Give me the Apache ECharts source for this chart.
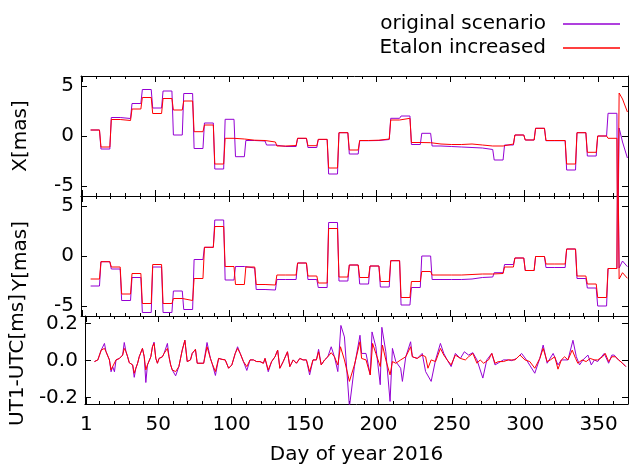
<!DOCTYPE html>
<html><head><meta charset="utf-8">
<script src="https://cdn.jsdelivr.net/npm/echarts@6/dist/echarts.min.js"></script>
<style>html,body{margin:0;padding:0;background:#fff}#c{width:629px;height:469px}</style>
</head><body><div id="c"></div>
<script>
// ---- data ----
const blockDays = [7,14,21,28,35,42,49,56,63,70,77,84,91,98,105,112,119,126,133,140,147,154,161,168,175,182,189,196,203,210,217,224,231,238,245,252,259,266,273,280,287,294,301,308,315,322,329,336,343,350,357];
const xOrig = [0.6,-1.3,1.85,1.75,3.25,4.65,2.8,4.5,0.1,4.25,-1.25,1.3,-3.3,1.67,-2.07,-0.45,-0.5,-0.9,-1.05,-1.05,-0.25,-1.15,-0.35,-3.8,0.33,-1.8,-0.47,-0.45,-0.35,1.77,2.0,-0.85,0.27,-1.0,-1.05,-1.1,-1.15,-1.2,-1.35,-2.4,-0.9,0.1,-0.4,0.77,-0.47,-0.47,-3.4,0.33,-2.0,0.0,2.27];
const xEtal = [0.6,-1.1,1.65,1.55,2.7,3.85,2.25,3.75,2.6,3.5,0.43,1.1,-2.8,-0.23,-0.3,-0.42,-0.45,-0.6,-1.0,-0.95,-0.22,-0.97,-0.33,-3.2,0.33,-1.4,-0.45,-0.42,-0.3,1.6,1.77,-0.65,-0.67,-0.8,-0.85,-0.85,-0.8,-0.9,-1.0,-1.0,-0.8,0.1,-0.4,0.77,-0.45,-0.45,-2.8,0.33,-1.63,0.0,-0.23];
const yOrig = [-3.0,-0.57,-1.3,-4.45,-2.15,-5.65,-1.1,-5.65,-3.5,-5.35,-0.35,0.87,3.6,-2.4,-1.05,-1.2,-3.35,-3.4,-2.35,-2.35,-0.7,-2.35,-3.15,3.35,-2.5,-0.9,-2.8,-1.0,-3.1,-0.47,-4.9,-3.15,0.0,-2.35,-2.35,-2.35,-2.3,-2.15,-2.1,-1.67,-0.85,-0.2,-1.45,-0.05,-1.15,-1.15,0.7,-2.25,-3.2,-5.0,-1.25];
const yEtal = [-2.3,-0.57,-1.1,-3.8,-1.75,-4.75,-0.85,-4.75,-4.25,-4.45,-2.25,0.87,2.95,-1.05,-2.85,-1.1,-2.85,-2.9,-1.9,-1.9,-0.7,-2.0,-2.7,2.75,-2.1,-0.9,-2.15,-1.0,-2.55,-0.47,-4.15,-2.55,-1.55,-1.9,-1.9,-1.9,-1.85,-1.8,-1.8,-1.75,-1.1,-0.2,-1.45,-0.05,-0.8,-0.8,0.7,-2.0,-2.8,-4.15,-1.25];
// end of year (after the outlier day)
const tailDays = [363,364,366.3,369.6];
const xOrigTail = [-12,0.8,-0.6,-2.2];
const xEtalTail = [-12,4.3,3.7,2.4];
const yOrigTail = [12,-1.2,-0.5,-1.07];
const yEtalTail = [12,-2.3,-1.67,-2.23];
// UT1-UTC [ms]
const utEtalDays = [6.5,8.8,11.1,13.3,14.4,16.7,17.8,18.9,20.1,21.2,22.3,23.5,25.7,26.8,28.0,29.1,30.2,32.5,33.6,34.7,35.9,37.0,39.2,40.4,41.5,42.6,44.9,46.0,47.1,48.3,49.4,50.5,52.8,53.9,56.2,57.3,58.4,59.5,61.8,64.0,66.3,68.1,69.7,71.9,73.1,75.3,76.5,77.6,80.9,83.2,85.5,86.6,88.9,91.1,93.4,95.6,97.9,100.1,102.4,104.0,105.8,108.0,110.3,112.5,114.8,117.0,119.3,121.6,122.7,124.9,127.2,129.5,131.3,132.8,135.1,138.0,139.6,141.9,144.1,146.4,148.6,150.9,153.1,155.4,157.7,159.2,161.0,163.3,165.5,167.8,170.0,172.3,174.1,176.8,180.2,183.6,187.4,188.5,191.5,194.4,196.0,198.2,201.2,202.7,205.0,207.9,209.5,211.8,215.1,218.6,221.9,223.1,226.4,229.8,232.1,233.7,235.9,238.9,242.2,244.5,246.8,249.5,252.4,255.8,259.2,261.4,264.3,267.1,269.3,271.6,275.0,277.2,279.4,281.7,285.1,288.5,290.8,293.0,296.4,299.8,303.1,306.5,309.9,312.2,314.9,317.1,320.1,322.3,324.6,326.8,329.1,332.0,334.3,335.8,338.8,341.5,344.2,347.1,349.3,352.7,354.5,356.8,359.0,361.3,363.6,366.3,368.5];
const utEtalVals = [-0.005,0.004,0.057,0.066,0.048,0.004,-0.05,-0.032,-0.041,0.004,-0.005,0.012,0.03,0.066,0.048,0.021,-0.011,-0.023,-0.068,-0.041,-0.014,0.021,0.066,0.021,-0.05,-0.023,0.021,0.075,0.093,0.012,-0.014,0.012,0.021,0.039,0.066,0.021,-0.023,-0.05,-0.059,-0.032,0.057,0.11,-0.005,0.004,0.039,0.061,-0.014,-0.023,-0.014,0.075,0.012,-0.014,-0.059,0.012,0.007,0.004,-0.041,-0.023,0.039,0.066,0.039,-0.005,-0.032,0.004,0.004,-0.005,-0.005,-0.014,0.012,-0.05,-0.005,0.021,0.057,-0.041,-0.005,0.048,-0.032,0.004,-0.014,0.012,0.004,0.004,-0.059,0.004,0.004,0.048,-0.023,0.004,0.021,0.043,0.021,-0.023,0.075,0.004,-0.112,-0.023,0.102,0.012,0.004,-0.077,0.093,0.039,-0.032,0.084,0.004,-0.077,-0.005,-0.014,0.004,0.021,0.075,0.021,0.012,0.03,0.021,-0.041,0.004,-0.005,0.066,0.03,0.004,-0.023,0.03,0.012,0.004,0.021,0.039,-0.014,0.004,-0.014,0.004,0.039,-0.014,-0.005,-0.005,0.004,0.004,0.004,0.03,0.004,-0.005,-0.041,0.012,0.066,-0.005,0.004,0.021,-0.046,0.004,0.021,0.004,0.057,0.012,-0.014,0.004,-0.005,0.012,0.004,0.004,0.021,0.039,-0.005,0.021,0.021,0.004,-0.014,-0.032];
const utOrigDays = [6.5,8.8,11.1,13.3,14.4,16.7,17.8,18.9,20.1,21.2,22.3,23.5,25.7,26.8,28.0,29.1,30.2,32.5,33.6,34.7,35.9,37.0,39.2,40.4,41.5,42.6,44.9,46.0,47.1,48.3,49.4,50.5,52.8,53.9,56.2,57.3,58.4,59.5,61.8,64.0,66.3,68.1,69.7,71.9,73.1,75.3,76.5,77.6,80.9,83.2,85.5,86.6,88.9,91.1,93.4,95.6,97.9,100.1,102.4,104.0,105.8,108.0,110.3,112.5,114.8,117.0,119.3,121.6,122.7,124.9,127.2,129.5,131.3,132.8,135.1,138.0,139.6,141.9,144.1,146.4,148.6,150.9,153.1,155.4,157.7,159.2,161.0,163.3,165.5,167.8,170.0,172.3,174.4,176.8,180.2,183.6,187.4,188.5,191.5,194.4,195.6,198.2,201.2,202.3,205.0,207.9,209.5,211.8,215.1,216.3,218.6,221.9,223.1,226.4,229.8,232.1,235.9,238.9,242.2,244.5,246.8,249.5,252.4,255.8,258.5,261.4,264.3,267.1,271.1,273.8,277.2,279.4,285.1,288.5,290.8,294.1,297.5,300.8,306.5,309.9,312.2,314.9,319.0,322.3,324.6,329.1,332.5,334.8,337.0,339.3,342.7,345.0,347.1,349.3,353.8,356.8,359.0,360.6,363.6,366.3,368.5];
const utOrigVals = [-0.005,0.004,0.057,0.093,0.048,0.004,-0.06,-0.032,-0.06,0.004,-0.005,0.012,0.03,0.098,0.048,0.021,-0.011,-0.023,-0.09,-0.041,-0.014,0.021,0.066,0.021,-0.118,-0.023,0.021,0.075,0.1,0.012,-0.014,0.012,0.021,0.039,0.093,0.021,-0.023,-0.05,-0.082,-0.032,0.057,0.11,-0.005,0.004,0.039,0.061,-0.014,-0.023,-0.014,0.098,0.012,-0.014,-0.08,0.012,0.007,0.004,-0.041,-0.023,0.039,0.075,0.039,-0.005,-0.053,0.004,0.004,-0.005,-0.005,-0.014,0.012,-0.06,-0.005,0.021,0.057,-0.041,-0.005,0.048,-0.032,0.004,-0.014,0.012,0.004,0.004,-0.077,0.004,0.004,0.061,-0.023,0.004,0.021,0.075,0.021,-0.059,0.19,0.128,-0.25,-0.032,0.137,0.039,0.039,-0.077,0.155,0.075,-0.13,0.18,0.048,-0.22,0.066,-0.005,-0.041,-0.112,0.021,0.102,0.021,0.012,0.039,-0.059,-0.112,0.004,0.093,0.039,0.004,-0.032,0.039,0.012,0.048,0.03,0.043,0.004,-0.094,0.004,0.039,-0.023,0.004,0.004,0.0,0.012,0.039,0.004,-0.068,0.012,0.084,-0.014,0.039,-0.023,0.004,0.004,0.11,0.021,-0.023,0.004,0.03,-0.023,0.004,-0.005,0.039,-0.014,0.03,0.03,0.004,-0.014,-0.032];
const majorDays = [1,50,100,150,200,250,300,350];
const xyTicks = [-5,0,5];
const utTicks = [-0.2,0,0.2];

// ---- build ----
function steps(vals, tDays, tVals){
  const pts=[];
  blockDays.forEach((d,i)=>{pts.push([d-0.5,vals[i]]);pts.push([d+5.5,vals[i]]);});
  tDays.forEach((d,i)=>pts.push([d,tVals[i]]));
  return pts;
}
function pairs(ds,vs){return ds.map((d,i)=>[d,vs[i]]);}
const P='#9400d3', R='#ff0000', FONT='DejaVu Sans';
const panels=[{top:76,h:120,min:-6,max:6,ticks:xyTicks,name:'X[mas]',fmt:v=>String(v)},
              {top:196,h:120,min:-6,max:6,ticks:xyTicks,name:'Y[mas]',fmt:v=>String(v)},
              {top:316,h:88,min:-0.234,max:0.241,ticks:utTicks,name:'UT1-UTC[ms]',fmt:v=>v.toFixed(1)}];
const grid=[],xAxis=[],yAxis=[];
panels.forEach((p,g)=>{
  grid.push({left:81,width:547,top:p.top,height:p.h,containLabel:false});
  const last=g===2;
  ['bottom','top'].forEach(pos=>{
    const isTitle=last&&pos==='bottom';
    xAxis.push({type:'value',gridIndex:g,position:pos,min:0,max:370,
      name:isTitle?'Day of year 2016':'',nameLocation:'middle',nameGap:41,
      nameTextStyle:{fontSize:20,color:'#000',fontFamily:FONT},
      axisLine:{show:true,onZero:false,lineStyle:{color:'#000',width:1}},
      axisTick:{show:true,inside:true,length:6,customValues:majorDays,lineStyle:{color:'#000'}},
      axisLabel:{show:isTitle,customValues:majorDays,fontSize:20,color:'#000',fontFamily:FONT,margin:11},
      splitLine:{show:false}});
  });
  ['bottom','top'].forEach(pos=>{
    xAxis.push({type:'value',gridIndex:g,position:pos,min:0,max:370,interval:10,
      axisLine:{show:false,onZero:false},axisLabel:{show:false},splitLine:{show:false},
      axisTick:{show:true,inside:true,length:3,lineStyle:{color:'#000'}}});
  });
  ['left','right'].forEach(pos=>{
    yAxis.push({type:'value',gridIndex:g,position:pos,min:p.min,max:p.max,
      name:pos==='left'?p.name:'',nameLocation:'middle',nameRotate:90,nameGap:50,
      nameTextStyle:{fontSize:20,color:'#000',fontFamily:FONT},
      axisLine:{show:true,onZero:false,lineStyle:{color:'#000',width:1}},
      axisTick:{show:true,inside:true,length:6,customValues:p.ticks,lineStyle:{color:'#000'}},
      axisLabel:{show:pos==='left',customValues:p.ticks,formatter:p.fmt,fontSize:20,color:'#000',fontFamily:FONT,margin:7},
      splitLine:{show:false}});
  });
});
function ser(name,color,g,data){
  return {type:'line',name,xAxisIndex:4*g,yAxisIndex:2*g,data,showSymbol:false,symbol:'none',
    lineStyle:{color,width:1},itemStyle:{color},clip:true,animation:false};
}
const series=[
  ser('original scenario',P,0,steps(xOrig,tailDays,xOrigTail)),
  ser('Etalon increased',R,0,steps(xEtal,tailDays,xEtalTail)),
  ser('original scenario',P,1,steps(yOrig,tailDays,yOrigTail)),
  ser('Etalon increased',R,1,steps(yEtal,tailDays,yEtalTail)),
  ser('original scenario',P,2,pairs(utOrigDays,utOrigVals)),
  ser('Etalon increased',R,2,pairs(utEtalDays,utEtalVals)),
];
const chart=echarts.init(document.getElementById('c'),null,{renderer:'canvas'});
chart.setOption({
  animation:false,backgroundColor:'#fff',
  grid,xAxis,yAxis,series,
  legend:{show:true,orient:'vertical',right:4,top:9,align:'right',icon:'rect',itemWidth:57,itemHeight:1.5,itemGap:4,
    textStyle:{fontSize:20,color:'#000',fontFamily:FONT,padding:[0,12,0,0]},
    data:['original scenario','Etalon increased']}
});
</script></body></html>
